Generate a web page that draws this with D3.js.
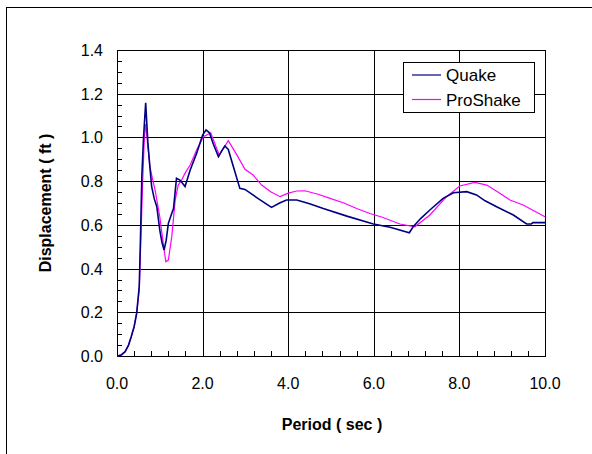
<!DOCTYPE html>
<html>
<head>
<meta charset="utf-8">
<script src="https://cdn.jsdelivr.net/npm/d3@7"></script>
<style>
  html, body { margin: 0; padding: 0; background: #fff; }
  svg { display: block; }
  text { font-family: Arial, "Liberation Sans", sans-serif; fill: #000; }
</style>
</head>
<body>
<svg id="chart" width="592" height="454"></svg>
<script>
// Response spectrum: displacement vs period for two site-response codes
const quake = [
  [0,0],[0.1,0.005],[0.19,0.02],[0.27,0.05],[0.33,0.087],[0.40,0.134],[0.46,0.195],
  [0.52,0.32],[0.55,0.55],[0.58,0.82],[0.62,1.0],[0.67,1.159],[0.72,0.98],[0.77,0.86],
  [0.81,0.775],[0.87,0.72],[0.93,0.683],[1.0,0.576],[1.05,0.52],[1.10,0.485],[1.15,0.53],
  [1.20,0.607],[1.28,0.653],[1.32,0.675],[1.39,0.813],[1.47,0.805],[1.53,0.79],[1.59,0.775],
  [1.71,0.851],[1.86,0.927],[2.0,1.011],[2.08,1.034],[2.16,1.021],[2.25,0.97],[2.37,0.912],
  [2.45,0.94],[2.52,0.961],[2.60,0.945],[2.72,0.866],[2.87,0.767],[2.99,0.762],[3.3,0.72],
  [3.61,0.68],[3.8,0.70],[3.96,0.714],[4.20,0.714],[4.5,0.697],[4.82,0.675],[5.37,0.640],
  [5.99,0.604],[6.38,0.589],[6.83,0.564],[6.92,0.591],[7.1,0.63],[7.31,0.668],[7.62,0.721],
  [7.86,0.747],[8.17,0.752],[8.40,0.737],[8.6,0.71],[8.87,0.683],[9.26,0.645],[9.57,0.604],
  [9.68,0.604],[9.72,0.61],[10.0,0.61]
];
const proShake = [
  [0,0],[0.1,0.005],[0.19,0.02],[0.27,0.05],[0.33,0.087],[0.40,0.134],[0.46,0.2],
  [0.52,0.30],[0.56,0.55],[0.60,0.8],[0.64,1.0],[0.67,1.061],[0.72,0.96],[0.77,0.866],
  [0.83,0.81],[0.89,0.759],[1.0,0.637],[1.08,0.515],[1.14,0.431],[1.20,0.439],[1.28,0.546],
  [1.36,0.714],[1.43,0.782],[1.51,0.805],[1.6,0.84],[1.71,0.874],[1.86,0.942],[2.02,1.003],
  [2.19,1.021],[2.39,0.919],[2.60,0.985],[2.8,0.92],[2.99,0.854],[3.18,0.828],[3.38,0.782],
  [3.6,0.75],[3.81,0.729],[4.0,0.745],[4.20,0.755],[4.39,0.756],[4.7,0.74],[4.98,0.721],
  [5.3,0.70],[5.60,0.675],[5.91,0.652],[6.2,0.635],[6.61,0.604],[6.96,0.591],[7.31,0.645],
  [7.70,0.729],[8.01,0.778],[8.36,0.794],[8.64,0.782],[8.9,0.75],[9.18,0.714],[9.49,0.691],
  [10.0,0.637]
];
const seriesNames = ["Quake", "ProShake"];
const seriesColors = ["#000080", "#FF00FF"];
const xTicks = [0, 2, 4, 6, 8, 10];
const yTicks = [0, 0.2, 0.4, 0.6, 0.8, 1.0, 1.2, 1.4];
const xTitle = "Period ( sec )";
const yTitle = "Displacement ( ft )";

const svg = d3.select("#chart");
const plot = { left: 117, right: 545, top: 50, bottom: 356 };

const x = d3.scaleLinear().domain([0, 10]).range([plot.left, plot.right]);
const y = d3.scaleLinear().domain([0, 1.4]).range([plot.bottom, plot.top]);

// outer chart frame (runs off the right and bottom edges)
svg.append("rect")
  .attr("x", 6.5).attr("y", 7.5).attr("width", 620).attr("height", 480)
  .attr("fill", "none").attr("stroke", "#000").attr("stroke-width", 1);

const g = svg.append("g").attr("shape-rendering", "crispEdges");

// gridlines
g.selectAll(".gx").data(xTicks).join("line")
  .attr("x1", d => Math.round(x(d)) + 0.5).attr("x2", d => Math.round(x(d)) + 0.5)
  .attr("y1", plot.top).attr("y2", plot.bottom)
  .attr("stroke", "#000");
g.selectAll(".gy").data(yTicks).join("line")
  .attr("y1", d => Math.round(y(d)) + 0.5).attr("y2", d => Math.round(y(d)) + 0.5)
  .attr("x1", plot.left).attr("x2", plot.right)
  .attr("stroke", "#000");

// minor ticks pointing into the plot
const yMinor = d3.range(0, 1.4001, 0.05);
g.selectAll(".my").data(yMinor).join("line")
  .attr("x1", plot.left).attr("x2", plot.left + 5)
  .attr("y1", d => Math.round(y(d)) + 0.5).attr("y2", d => Math.round(y(d)) + 0.5)
  .attr("stroke", "#000");
const xMinor = d3.range(0, 10.001, 0.4);
g.selectAll(".mx").data(xMinor).join("line")
  .attr("x1", d => Math.round(x(d)) + 0.5).attr("x2", d => Math.round(x(d)) + 0.5)
  .attr("y1", plot.bottom).attr("y2", plot.bottom - 5)
  .attr("stroke", "#000");

// plot border
g.append("rect")
  .attr("x", plot.left + 0.5).attr("y", plot.top + 0.5)
  .attr("width", plot.right - plot.left).attr("height", plot.bottom - plot.top)
  .attr("fill", "none").attr("stroke", "#000");

// tick labels
svg.selectAll(".xl").data(xTicks).join("text")
  .attr("x", d => x(d)).attr("y", plot.bottom + 33)
  .attr("text-anchor", "middle").attr("font-size", 16)
  .text(d => d.toFixed(1));
svg.selectAll(".yl").data(yTicks).join("text")
  .attr("x", plot.left - 14).attr("y", d => y(d) + 6)
  .attr("text-anchor", "end").attr("font-size", 16)
  .text(d => d.toFixed(1));

// axis titles
svg.append("text")
  .attr("x", 332).attr("y", 430)
  .attr("text-anchor", "middle").attr("font-size", 16).attr("font-weight", "bold")
  .text(xTitle);
svg.append("text")
  .attr("transform", "translate(51,203) rotate(-90)")
  .attr("text-anchor", "middle").attr("font-size", 16).attr("font-weight", "bold")
  .text(yTitle);

// series lines
const line = d3.line().x(d => x(d[0])).y(d => y(d[1]));
const clip = svg.append("clipPath").attr("id", "plotclip")
  .append("rect").attr("x", plot.left).attr("y", plot.top)
  .attr("width", plot.right - plot.left + 1).attr("height", plot.bottom - plot.top + 1);
const lines = svg.append("g").attr("clip-path", "url(#plotclip)");
lines.append("path").datum(proShake)
  .attr("d", line).attr("fill", "none")
  .attr("stroke", seriesColors[1]).attr("stroke-width", 1.2);
lines.append("path").datum(quake)
  .attr("d", line).attr("fill", "none")
  .attr("stroke", seriesColors[0]).attr("stroke-width", 1.6);

// legend
const legend = svg.append("g");
legend.append("rect")
  .attr("x", 403.5).attr("y", 62.5).attr("width", 131).attr("height", 50)
  .attr("fill", "#fff").attr("stroke", "#000").attr("shape-rendering", "crispEdges");
seriesNames.forEach((name, i) => {
  const ly = 75 + i * 24.5;
  legend.append("line")
    .attr("x1", 412).attr("x2", 441).attr("y1", ly).attr("y2", ly)
    .attr("stroke", seriesColors[i]).attr("stroke-width", 1.2);
  legend.append("text")
    .attr("x", 446).attr("y", ly + 6)
    .attr("font-size", 17)
    .text(name);
});
</script>
</body>
</html>
